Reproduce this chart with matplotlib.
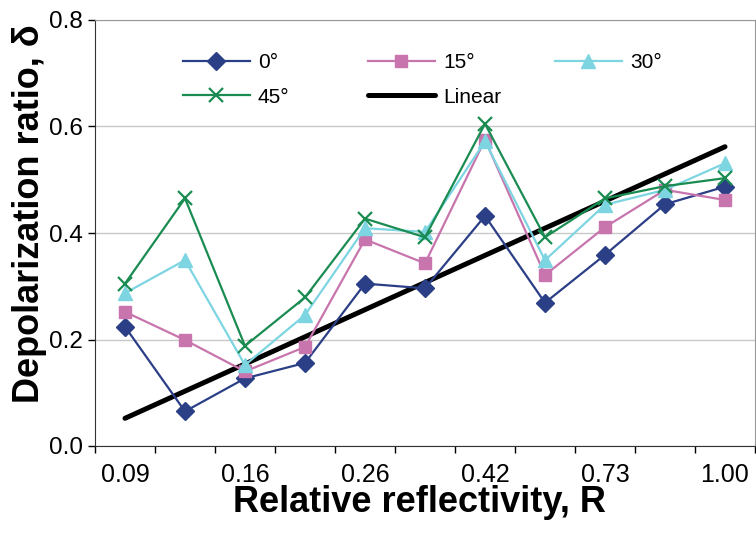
import numpy as np
import matplotlib.pyplot as plt
from matplotlib.ticker import FormatStrFormatter

plt.rcParams["font.family"] = ["Liberation Sans", "DejaVu Sans"]

r_labels = ["0.09", "0.16", "0.26", "0.42", "0.73", "1.00"]
n_points = 11

d0 = [0.224, 0.065, 0.127, 0.156, 0.305, 0.296, 0.432, 0.269, 0.359, 0.454, 0.487]
d15 = [0.252, 0.199, 0.140, 0.186, 0.388, 0.343, 0.575, 0.321, 0.411, 0.481, 0.462]
d30 = [0.287, 0.349, 0.152, 0.246, 0.409, 0.402, 0.572, 0.349, 0.453, 0.481, 0.531]
d45 = [0.305, 0.465, 0.188, 0.279, 0.427, 0.392, 0.605, 0.392, 0.465, 0.488, 0.503]
linear_ends = [0.052, 0.562]


def main():
    fig = plt.figure(figsize=(7.56, 5.52), dpi=100)
    ax = fig.add_axes([95 / 756, 1 - 446 / 552, 660 / 756, 426 / 552])

    x = np.arange(n_points)
    lin, = ax.plot([x[0], x[-1]], linear_ends, color="black", lw=3.6,
                   solid_capstyle="round", zorder=2, label="Linear")
    h0, = ax.plot(x, d0, color="#2B3F87", lw=1.6, marker="D", ms=9, zorder=3, label="0°")
    h15, = ax.plot(x, d15, color="#C875AE", lw=1.6, marker="s", ms=9, zorder=3, label="15°")
    h30, = ax.plot(x, d30, color="#7DD5E2", lw=1.6, marker="^", ms=10, zorder=3, label="30°")
    h45, = ax.plot(x, d45, color="#1A8C52", lw=1.6, marker="x", ms=10, mew=1.6,
                   zorder=3, label="45°")

    ax.set_xlim(-0.5, n_points - 0.5)
    ax.set_ylim(0, 0.8)
    ax.set_yticks(np.arange(0, 0.81, 0.2))
    ax.yaxis.set_major_formatter(FormatStrFormatter("%.1f"))
    ax.yaxis.grid(True, color="#C8C8C8", lw=1)
    ax.set_axisbelow(True)

    ax.set_xticks(np.arange(-0.5, n_points, 1.0))
    ax.set_xticklabels([])
    ax.set_xticks(np.arange(0, n_points, 2), minor=True)
    ax.set_xticklabels(r_labels, minor=True)
    ax.tick_params(axis="x", which="major", direction="out", length=5, width=1)
    ax.tick_params(axis="x", which="minor", length=0, pad=12, labelsize=18)
    ax.tick_params(axis="y", direction="out", length=5, width=1, pad=4, labelsize=17.5)

    for s in ["top", "right"]:
        ax.spines[s].set_color("#999999")
    for s in ["left", "bottom"]:
        ax.spines[s].set_color("#333333")

    fig.text(0.5 * (95 + 755) / 756 - 0.008, 1 - 503 / 552, "Relative reflectivity, R",
             ha="center", va="center", fontsize=26, fontweight="bold")
    fig.text(30 / 756, 1 - 214 / 552, "Depolarization ratio, δ", rotation=90,
             ha="center", va="center", fontsize=26, fontweight="bold")

    kw = dict(frameon=False, fontsize=15, handlelength=3.2, handletextpad=0.4,
              labelspacing=0.75, borderpad=0, borderaxespad=0, loc="upper left")
    leg1 = fig.legend(handles=[h0, h45], bbox_to_anchor=(183 / 756, 1 - 53 / 552), **kw)
    leg2 = fig.legend(handles=[h15, lin], bbox_to_anchor=(368 / 756, 1 - 53 / 552), **kw)
    leg3 = fig.legend(handles=[h30], bbox_to_anchor=(555 / 756, 1 - 53 / 552), **kw)

    fig.savefig("out.png", dpi=100)


if __name__ == "__main__":
    main()
